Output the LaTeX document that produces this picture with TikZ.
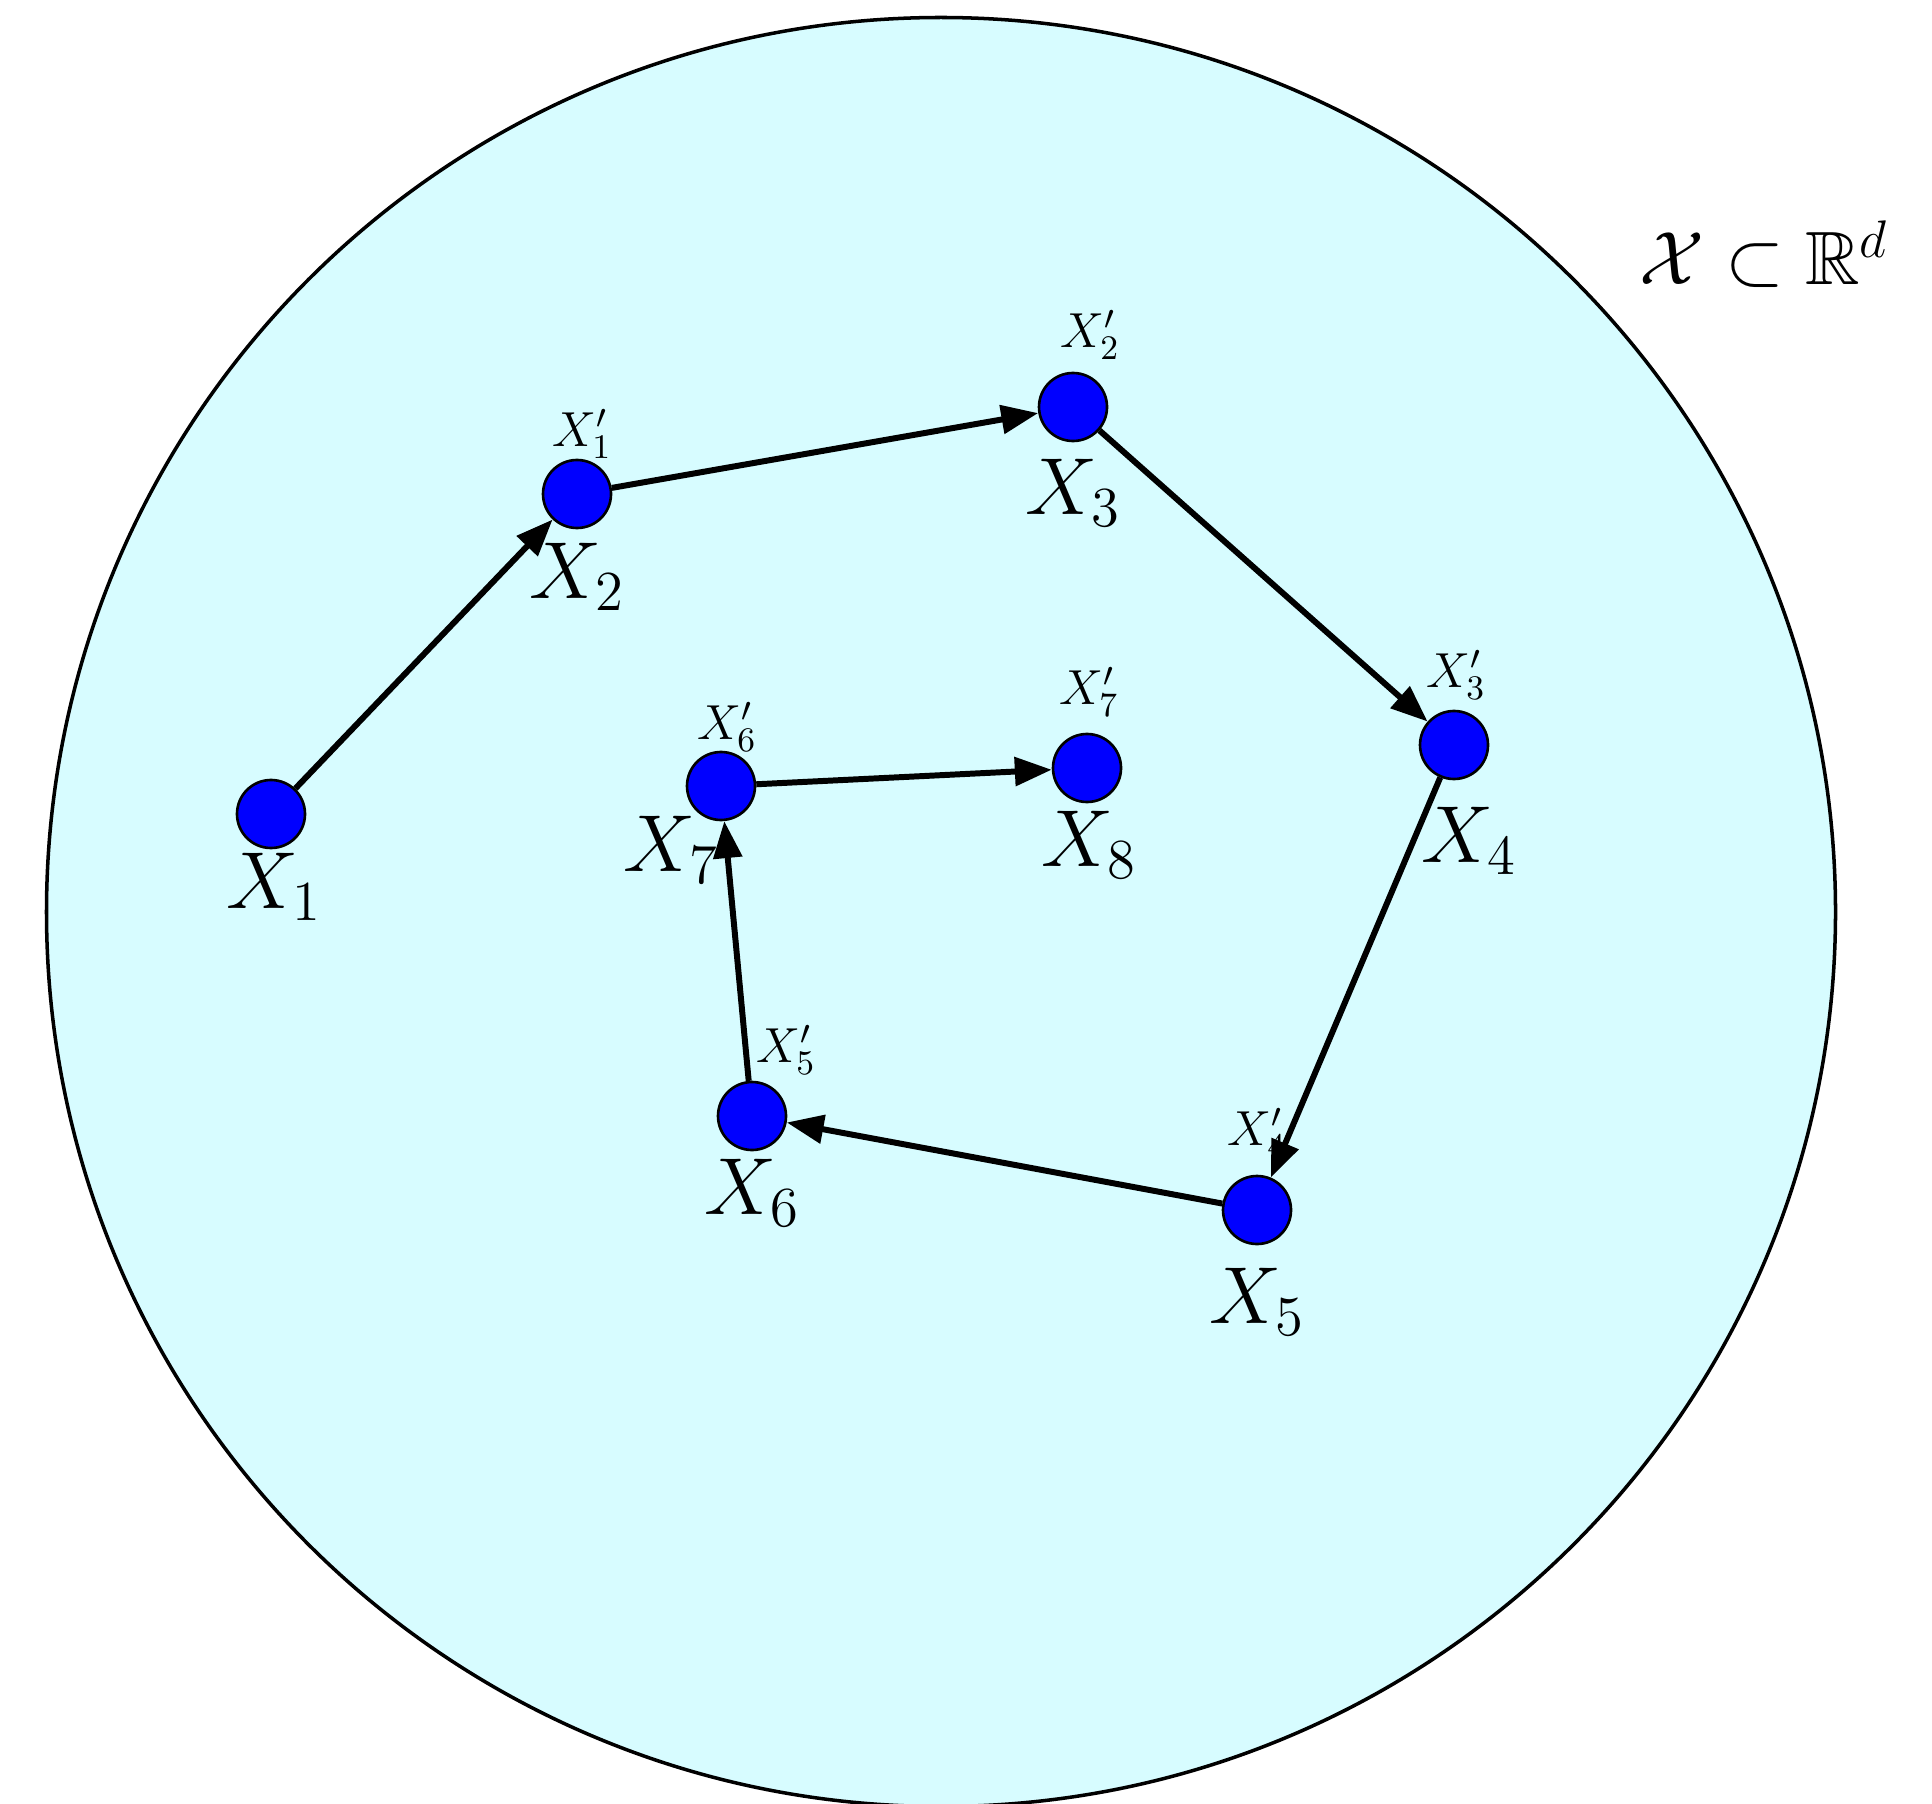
\RequirePackage{fix-cm}
\documentclass[tikz,border=0pt]{standalone}
\usepackage{amsmath,amssymb,amsfonts}
\usepackage{xcolor}
\usepackage{tikz}
\usetikzlibrary{arrows.meta, positioning}
\definecolor{domain}{RGB}{215,252,255}
\tikzstyle{arrow} = [line width=1.7pt,-{Triangle[length=10.5pt,width=8pt]}]
\tikzstyle{sample} = [circle, draw=black, line width=0.75pt, fill=blue, minimum size=0.68cm, inner sep=0pt]
\tikzstyle{lbl} = [font=\fontsize{23}{28}\selectfont, inner sep=0pt]
\tikzstyle{plbl} = [font=\fontsize{14}{17}\selectfont, inner sep=0pt]

\begin{document}
\begin{tikzpicture}
    \useasboundingbox (0,0) rectangle (19.32,18.03);
    % Domain
    \draw[line width=1pt, fill=domain] (9.41,8.91) circle (8.945);
    \node[lbl, font=\fontsize{21.5}{26}\selectfont] (dom) at (17.64,15.49) {$\mathcal{X}\subset\mathbb{R}^d$};

    % Samples
    \node[sample] (x1) at (2.71,9.89) {};
    \node[sample] (x2) at (5.77,13.09) {};
    \node[sample] (x3) at (10.73,13.96) {};
    \node[sample] (x4) at (14.54,10.58) {};
    \node[sample] (x5) at (12.57,5.93) {};
    \node[sample] (x6) at (7.52,6.87) {};
    \node[sample] (x7) at (7.21,10.17) {};
    \node[sample] (x8) at (10.87,10.35) {};

    % Labels below
    \node[lbl] (l1) at (2.74,9.16) {$X_1$};
    \node[lbl] (l2) at (5.77,12.26) {$X_2$};
    \node[lbl] (l3) at (10.73,13.10) {$X_3$};
    \node[lbl] (l4) at (14.69,9.62) {$X_4$};
    \node[lbl] (l5) at (12.57,5.01) {$X_5$};
    \node[lbl] (l6) at (7.52,6.10) {$X_6$};
    \node[lbl] (l7) at (6.71,9.53) {$X_7$};
    \node[lbl] (l8) at (10.89,9.58) {$X_8$};

    % Proposals above
    \node[plbl] (p1) at (5.82,13.69) {$X_1'$};
    \node[plbl] (p2) at (10.90,14.68) {$X_2'$};
    \node[plbl] (p3) at (14.56,11.28) {$X_3'$};
    \node[plbl] (p4) at (12.57,6.70) {$X_4'$};
    \node[plbl] (p5) at (7.86,7.53) {$X_5'$};
    \node[plbl] (p6) at (7.27,10.76) {$X_6'$};
    \node[plbl] (p7) at (10.89,11.11) {$X_7'$};

    % Chain
    \draw[arrow] (x1) -- (x2);
    \draw[arrow] (x2) -- (x3);
    \draw[arrow] (x3) -- (x4);
    \draw[arrow] (x4) -- (x5);
    \draw[arrow] (x5) -- (x6);
    \draw[arrow] (x6) -- (x7);
    \draw[arrow] (x7) -- (x8);
\end{tikzpicture}
\end{document}
